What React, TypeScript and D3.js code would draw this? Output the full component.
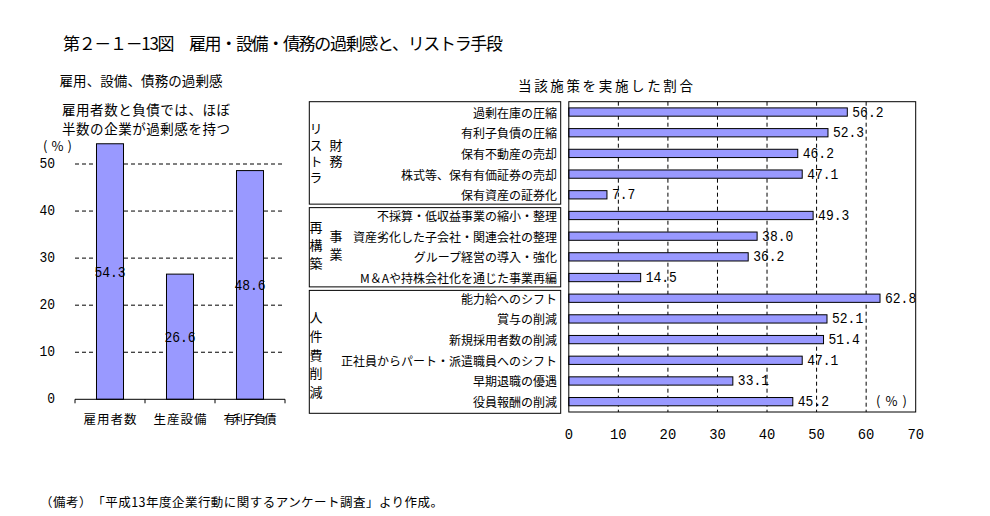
import React from 'react';
import * as d3 from 'd3';

const title = '第２－１－13図　雇用・設備・債務の過剰感と、リストラ手段';
const leftHeading = '雇用、設備、債務の過剰感';
const leftNote1 = '雇用者数と負債では、ほぼ';
const leftNote2 = '半数の企業が過剰感を持つ';
const rightHeading = '当該施策を実施した割合';
const footer = '（備考）　「平成13年度企業行動に関するアンケート調査」より作成。';
const pctLabel = '(%)';

const leftCats = ['雇用者数', '生産設備', '有利子負債'];
const leftVals = [54.3, 26.6, 48.6];
const leftTicks = [0, 10, 20, 30, 40, 50];

const rightCats = [
  '過剰在庫の圧縮',
  '有利子負債の圧縮',
  '保有不動産の売却',
  '株式等、保有有価証券の売却',
  '保有資産の証券化',
  '不採算・低収益事業の縮小・整理',
  '資産劣化した子会社・関連会社の整理',
  'グループ経営の導入・強化',
  'M＆Aや持株会社化を通じた事業再編',
  '能力給へのシフト',
  '賞与の削減',
  '新規採用者数の削減',
  '正社員からパート・派遣職員へのシフト',
  '早期退職の優遇',
  '役員報酬の削減',
];
const rightVals = [56.2, 52.3, 46.2, 47.1, 7.7, 49.3, 38.0, 36.2, 14.5, 62.8, 52.1, 51.4, 47.1, 33.1, 45.2];
const rightTicks = [0, 10, 20, 30, 40, 50, 60, 70];

const groupStarts = [0, 5, 9];
const groupEnds = [5, 9, 15];
const groupCol1 = ['リストラ', '再構築', '人件費削減'];
const groupCol2 = ['財務', '事業', ''];

const BAR = '#9999ff';
const JP = '"Noto Sans CJK JP", "Noto Sans", sans-serif';
const MONO = '"Liberation Mono", "DejaVu Sans Mono", monospace';

function Num(props: { x: number; y: number; s: string; anchor?: string; cw?: number }) {
  const cw = props.cw ?? 7.8;
  return (
    <text x={props.x} y={props.y} fontFamily={MONO} fontSize={15} textAnchor={props.anchor ?? 'start'}
      dominantBaseline="central" textLength={props.s.length * cw} lengthAdjust="spacingAndGlyphs">{props.s}</text>
  );
}

function VText(props: { x: number; cy: number; s: string; sp: number; fs: number }) {
  const n = Array.from(props.s).length;
  const extra = props.sp - props.fs;
  return (
    <text x={props.x} y={props.cy + extra / 2} fontFamily={JP} fontSize={props.fs} textAnchor="middle"
      style={{ writingMode: 'vertical-rl', letterSpacing: `${extra}px` } as any}
      data-n={n}>{props.s}</text>
  );
}

export default function App() {
  const yL = d3.scaleLinear().domain([0, 50]).range([399.3, 164]);
  const xL = d3.scaleBand().domain(leftCats).range([75, 285]).paddingInner(0.614).paddingOuter(0.307);

  const xR = d3.scaleLinear().domain([0, 70]).range([568.8, 915.7]);
  const yR = d3.scaleBand().domain(rightCats).range([101.7, 412]).paddingInner(0.6).paddingOuter(0.3);
  const step = yR.step();
  const top = yR.range()[0];

  const groupSpacing = [16.3, 18, 18.7];
  const groupShift = [0, -2, 3];

  return (
    <svg width={990} height={516} style={{ position: 'absolute', left: 0, top: 0, background: '#fff' }}>
      <rect x={0} y={0} width={990} height={516} fill="#fff" />
      <text x={63} y={42} fontFamily={JP} fontSize={17} dominantBaseline="central" textLength={440} lengthAdjust="spacing">{title}</text>

      {/* left chart */}
      <text x={59.5} y={80} fontFamily={JP} fontSize={13.5} dominantBaseline="central" textLength={163} lengthAdjust="spacing">{leftHeading}</text>
      <text x={62} y={109} fontFamily={JP} fontSize={13.5} dominantBaseline="central" textLength={168} lengthAdjust="spacing">{leftNote1}</text>
      <text x={62} y={128} fontFamily={JP} fontSize={13.5} dominantBaseline="central" textLength={168} lengthAdjust="spacing">{leftNote2}</text>
      <text x={43} y={145} fontFamily={JP} fontSize={13} dominantBaseline="central" textLength={29} lengthAdjust="spacing">{pctLabel}</text>

      {leftTicks.filter(t => t > 0).map(t => (
        <line key={'lg' + t} x1={75} x2={285} y1={yL(t)} y2={yL(t)} stroke="#000" strokeDasharray="4,3" strokeWidth={1} />
      ))}
      {leftTicks.map(t => (
        <Num key={'lt' + t} x={55} y={yL(t)} s={String(t)} anchor="end" />
      ))}
      {leftCats.map((c, i) => (
        <rect key={'lb' + c} x={xL(c)} y={yL(leftVals[i])} width={xL.bandwidth()} height={yL(0) - yL(leftVals[i])} fill={BAR} stroke="#000" strokeWidth={1} />
      ))}
      <line x1={75} x2={285} y1={yL(0)} y2={yL(0)} stroke="#000" strokeWidth={1} />
      {[0, 1, 2, 3].map(k => {
        const x = 75 + k * xL.step();
        return <line key={'ltk' + k} x1={x} x2={x} y1={yL(0)} y2={yL(0) + 4} stroke="#000" strokeWidth={1} />;
      })}
      {leftCats.map((c, i) => (
        <Num key={'lv' + c} x={(xL(c) as number) + xL.bandwidth() / 2} y={(yL(leftVals[i]) + yL(0)) / 2 + 2} s={leftVals[i].toFixed(1)} anchor="middle" />
      ))}
      {leftCats.map(c => (
        <text key={'lc' + c} x={(xL(c) as number) + xL.bandwidth() / 2 - 26.5} y={418} fontFamily={JP} fontSize={12.5} dominantBaseline="central" textLength={53} lengthAdjust="spacing">{c}</text>
      ))}

      {/* right chart */}
      <text x={518} y={85} fontFamily={JP} fontSize={13.5} dominantBaseline="central" textLength={175} lengthAdjust="spacing">{rightHeading}</text>

      {groupStarts.map((s, g) => {
        const y0 = top + s * step + (g > 0 ? 2.5 : 0);
        const y1 = top + groupEnds[g] * step + (g < groupStarts.length - 1 ? -1 : 1.3);
        const cy = (y0 + y1) / 2 + groupShift[g];
        const sp = groupSpacing[g];
        return (
          <g key={'grp' + g}>
            <rect x={309.3} y={y0} width={251.4} height={y1 - y0} fill="none" stroke="#000" strokeWidth={1} />
            <VText x={316} cy={cy} s={groupCol1[g]} sp={sp} fs={13} />
            {groupCol2[g] && <VText x={336} cy={cy} s={groupCol2[g]} sp={sp} fs={13} />}
          </g>
        );
      })}
      {rightCats.map(c => (
        <text key={'rc' + c} x={557} y={(yR(c) as number) + yR.bandwidth() / 2} fontFamily={JP} fontSize={12} textAnchor="end" dominantBaseline="central">{c}</text>
      ))}

      {rightTicks.filter(t => t > 0 && t < 70).map(t => (
        <line key={'rg' + t} x1={xR(t)} x2={xR(t)} y1={101.7} y2={412} stroke="#000" strokeDasharray="4,3" strokeWidth={1} />
      ))}
      {rightCats.map((c, i) => (
        <rect key={'rb' + c} x={xR(0)} y={yR(c)} width={xR(rightVals[i]) - xR(0)} height={yR.bandwidth()} fill={BAR} stroke="#000" strokeWidth={1} />
      ))}
      {rightCats.map((c, i) => (
        <Num key={'rv' + c} x={xR(rightVals[i]) + 5} y={(yR(c) as number) + yR.bandwidth() / 2 + 1} s={rightVals[i].toFixed(1)} />
      ))}
      <rect x={xR(0)} y={101.7} width={xR(70) - xR(0)} height={412 - 101.7} fill="none" stroke="#000" strokeWidth={1} />
      {rightTicks.map(t => (
        <Num key={'rt' + t} x={xR(t)} y={435} s={String(t)} anchor="middle" cw={8.3} />
      ))}
      <text x={876} y={400} fontFamily={JP} fontSize={13} dominantBaseline="central" textLength={31} lengthAdjust="spacing">{pctLabel}</text>

      <text x={40} y={501} fontFamily={JP} fontSize={12.5} dominantBaseline="central" textLength={403} lengthAdjust="spacing">{footer}</text>
    </svg>
  );
}
